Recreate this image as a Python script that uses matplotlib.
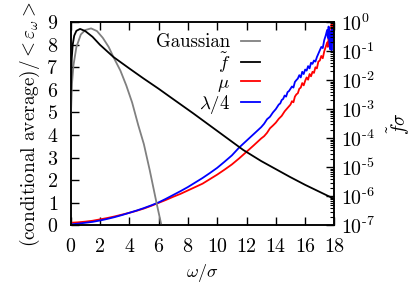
import numpy as np
import matplotlib
matplotlib.use("Agg")
import matplotlib.pyplot as plt
from matplotlib.ticker import MultipleLocator, LogLocator, FuncFormatter

plt.rcParams['font.family'] = 'serif'
plt.rcParams['font.serif'] = ['cmr10', 'DejaVu Serif']
plt.rcParams['mathtext.fontset'] = 'cm'
plt.rcParams['axes.formatter.use_mathtext'] = True
plt.rcParams['font.size'] = 14.4

# Gaussian reference pdf (right axis, f sigma)
x_gauss = [0.03, 0.1, 0.2, 0.4, 0.7, 1.0, 1.4, 1.8, 2.2, 2.6, 2.92, 3.4, 3.8,
           4.2, 4.62, 5.0, 5.4, 5.87, 6.2, 6.4]
f_gauss = [7.8e-4, 7.9e-3, 0.033, 0.139, 0.373, 0.53, 0.605, 0.49, 0.286, 0.139,
           0.063, 0.0213, 6.6e-3, 1.7e-3, 2.8e-4, 6.3e-5, 8.0e-6, 5.8e-7, 1e-7, 3e-8]

# measured pdf f~ (right axis)
x_f = [0.02, 0.08, 0.15, 0.25, 0.4, 0.65, 1.0, 1.5, 2.0, 2.92, 4.0, 4.96, 6.0,
       6.78, 8.37, 10.0, 11.78, 13.0, 14.96, 16.0, 17.9]
f_meas = [4.7e-3, 5.7e-2, 0.17, 0.34, 0.50, 0.58, 0.49, 0.31, 0.166, 0.063, 0.0255,
          0.0116, 5.1e-3, 2.67e-3, 7.2e-4, 1.8e-4, 3.96e-5, 1.65e-5, 4.7e-6, 2.5e-6, 8.6e-7]

# conditional averages (left axis)
x_mu = [0, 0.5, 1, 1.5, 2, 2.5, 3, 3.5, 4, 4.5, 5, 5.5, 6, 6.5, 7, 7.5, 8, 8.5, 9,
        9.5, 10, 10.5, 11, 11.5, 12, 12.5, 13, 13.2, 13.4, 13.6, 13.8, 14.0, 14.2,
        14.4, 14.6, 14.8, 15.0, 15.1, 15.2, 15.3, 15.4, 15.5, 15.6, 15.7, 15.8, 15.9,
        16.0, 16.1, 16.2, 16.3, 16.4, 16.5, 16.6, 16.7, 16.8, 16.9, 17.0, 17.1, 17.2,
        17.3, 17.4, 17.5, 17.55, 17.6, 17.65, 17.7, 17.75, 17.8, 17.85, 17.9, 17.95]
mu = [0.12, 0.14, 0.17, 0.21, 0.27, 0.33, 0.40, 0.48, 0.56, 0.65, 0.75, 0.87, 1.0,
      1.13, 1.27, 1.40, 1.55, 1.70, 1.85, 2.05, 2.25, 2.47, 2.70, 2.97, 3.26, 3.55,
      3.85, 3.95, 4.1, 4.3, 4.42, 4.55, 4.72, 4.85, 5.05, 5.2, 5.35, 5.5, 5.45, 5.7,
      5.8, 5.85, 6.05, 6.1, 6.3, 6.2, 6.4, 6.55, 6.45, 6.7, 6.6, 6.8, 6.75, 7.0, 6.95,
      7.25, 7.3, 7.5, 7.4, 7.7, 7.9, 8.1, 7.9, 8.3, 8.0, 8.5, 8.2, 8.9, 8.3, 8.87, 8.6]

x_lam = [0, 0.5, 1, 1.5, 2, 2.5, 3, 3.5, 4, 4.5, 5, 5.5, 6, 6.5, 7, 7.5, 8, 8.5, 9,
         9.5, 10, 10.5, 11, 11.5, 12, 12.5, 13, 13.2, 13.4, 13.6, 13.8, 14.0, 14.2,
         14.3, 14.4, 14.5, 14.6, 14.7, 14.8, 14.9, 15.0, 15.1, 15.2, 15.3, 15.4, 15.5,
         15.6, 15.7, 15.8, 15.9, 16.0, 16.1, 16.2, 16.3, 16.4, 16.5, 16.6, 16.7, 16.8,
         16.9, 17.0, 17.1, 17.2, 17.3, 17.4, 17.5, 17.55, 17.6, 17.65, 17.7, 17.75,
         17.8, 17.85, 17.9, 17.95]
lam4 = [0.05, 0.08, 0.12, 0.16, 0.22, 0.29, 0.37, 0.46, 0.56, 0.66, 0.77, 0.89, 1.02,
        1.18, 1.35, 1.52, 1.70, 1.9, 2.1, 2.32, 2.55, 2.82, 3.1, 3.45, 3.75, 4.05, 4.35,
        4.5, 4.7, 4.81, 5.0, 5.15, 5.35, 5.4, 5.55, 5.6, 5.75, 5.7, 5.9, 5.95, 6.05,
        6.15, 6.1, 6.35, 6.43, 6.5, 6.65, 6.55, 6.8, 6.7, 6.9, 6.85, 7.05, 6.95, 7.2,
        7.15, 7.3, 7.25, 7.45, 7.6, 7.75, 7.9, 7.85, 8.2, 8.4, 8.65, 8.3, 8.8, 8.1, 7.8,
        8.6, 7.75, 8.7, 8.1, 8.5]


def log_label(v, pos):
    e = int(round(np.log10(v)))
    if e < 0:
        return r'$10^{\text{-}%d}$' % (-e)
    return r'$10^{%d}$' % e


fig = plt.figure(figsize=(4.15, 2.94), dpi=100)
ax = fig.add_axes([0.170, 0.233, 0.636, 0.692])
ax2 = ax.twinx()

lr, = ax.plot(x_mu, mu, color='red', lw=1.3, label=r'$\mu$')
lb, = ax.plot(x_lam, lam4, color='blue', lw=1.3, label=r'$\lambda/4$')
lg, = ax2.plot(x_gauss, f_gauss, color='#808080', lw=1.3, label='Gaussian')
lk, = ax2.plot(x_f, f_meas, color='black', lw=1.3, label=r'$\tilde{f}$')

ax.set_xlim(0, 18)
ax.set_ylim(0, 9)
ax.xaxis.set_major_locator(MultipleLocator(2))
ax.yaxis.set_major_locator(MultipleLocator(1))
ax.tick_params(direction='in', length=6, width=1, top=True, right=False, pad=9)
ax.set_xlabel(r'$\omega/\sigma$', fontsize=13, labelpad=4)
ax.set_ylabel(r'(conditional average)/$<\varepsilon_\omega>$', fontsize=13.8, labelpad=3)

ax2.set_yscale('log')
ax2.set_ylim(1e-7, 1)
ax2.yaxis.set_major_locator(LogLocator(base=10, numticks=10))
ax2.yaxis.set_minor_locator(LogLocator(base=10, subs=np.arange(2, 10), numticks=10))
ax2.yaxis.set_major_formatter(FuncFormatter(log_label))
ax2.tick_params(which='major', direction='in', length=6, width=1, pad=5)
ax2.tick_params(which='minor', direction='in', length=3, width=0.8)
ax2.set_ylabel(r'$\tilde{f}\sigma$', fontsize=14, labelpad=7)

for a in (ax, ax2):
    for s in a.spines.values():
        s.set_linewidth(1.1)

ax2.legend(handles=[lg, lk, lr, lb], loc='upper right', bbox_to_anchor=(0.76, 1.0),
           frameon=False, markerfirst=False, handlelength=1.0, labelspacing=-0.05,
           handletextpad=0.6, borderaxespad=0.2, fontsize=13.5)

fig.savefig('out.png', dpi=100)
